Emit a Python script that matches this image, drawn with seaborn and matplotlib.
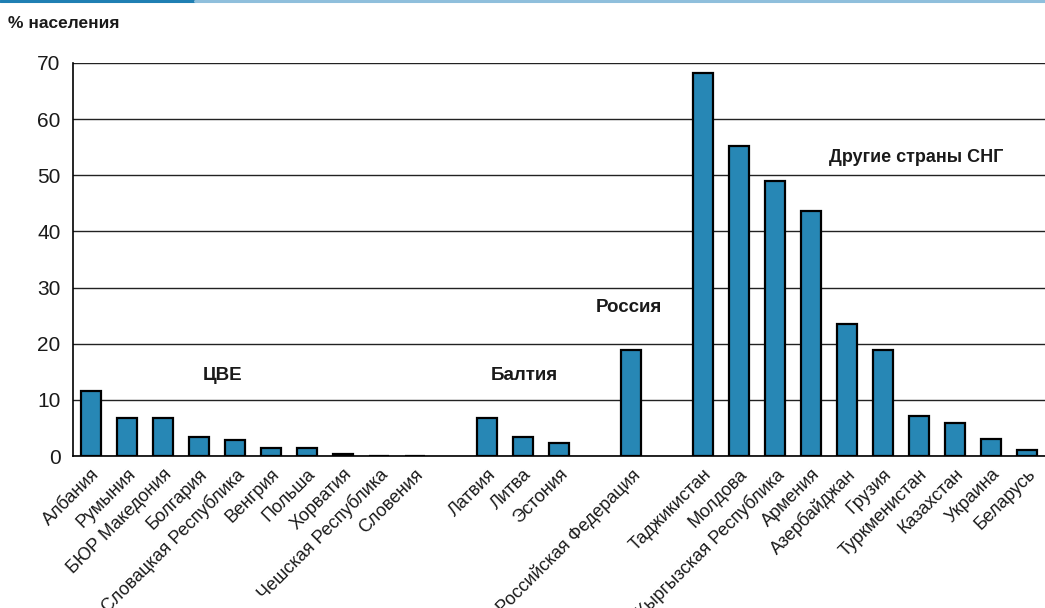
import numpy as np
import pandas as pd
import matplotlib.pyplot as plt
import seaborn as sns

# slots in drawing order; blank names are spacer slots between groups
slots = ['Албания', 'Румыния', 'БЮР Македония', 'Болгария', 'Словацкая Республика',
         'Венгрия', 'Польша', 'Хорватия', 'Чешская Республика', 'Словения', ' ',
         'Латвия', 'Литва', 'Эстония', '  ',
         'Российская Федерация', '   ',
         'Таджикистан', 'Молдова', 'Кыргызская Республика', 'Армения', 'Азербайджан',
         'Грузия', 'Туркменистан', 'Казахстан', 'Украина', 'Беларусь']

cee = ['Албания', 'Румыния', 'БЮР Македония', 'Болгария', 'Словацкая Республика',
       'Венгрия', 'Польша', 'Хорватия', 'Чешская Республика', 'Словения']
cee_vals = [11.6, 6.8, 6.8, 3.4, 2.8, 1.4, 1.4, 0.4, 0.0, 0.0]

baltic = ['Латвия', 'Литва', 'Эстония']
baltic_vals = [6.8, 3.4, 2.3]

russia = ['Российская Федерация']
russia_vals = [18.9]

cis = ['Таджикистан', 'Молдова', 'Кыргызская Республика', 'Армения', 'Азербайджан',
       'Грузия', 'Туркменистан', 'Казахстан', 'Украина', 'Беларусь']
cis_vals = [68.2, 55.2, 49.0, 43.6, 23.5, 18.9, 7.1, 5.9, 3.0, 1.1]

df = pd.DataFrame({'country': cee + baltic + russia + cis,
                   'value': cee_vals + baltic_vals + russia_vals + cis_vals})

sns.set_style('white')
plt.rcParams['font.family'] = ['Liberation Sans', 'DejaVu Sans']
txt_color = '#1a1a1a'

fig = plt.figure(figsize=(10.45, 6.08), dpi=100)
ax = fig.add_axes([0.0699, 0.25, 0.9301, 0.6464])

sns.barplot(data=df, x='country', y='value', order=slots, color='#2787b5',
            saturation=1, width=0.56, edgecolor='black', linewidth=1.6, ax=ax, zorder=3)

ax.set_ylim(0, 70)
ax.set_xlim(-0.5, len(slots) - 0.5)
ax.set_yticks(range(0, 71, 10))
ax.yaxis.grid(True, color='#222222', linewidth=1.0)
ax.set_axisbelow(True)
for s in ['top', 'right']:
    ax.spines[s].set_visible(False)
for s in ['left', 'bottom']:
    ax.spines[s].set_color('black')
    ax.spines[s].set_linewidth(1.2)

ax.set_xlabel('')
ax.set_ylabel('')
ax.set_xticks(range(len(slots)))
ax.set_xticklabels(slots, rotation=45, ha='right', rotation_mode='anchor',
                   fontsize=13, color=txt_color)
ax.tick_params(axis='x', length=0, pad=7)
ax.set_xticks(np.arange(-0.5, len(slots), 1), minor=True)
ax.tick_params(axis='x', which='minor', length=6, width=1.2, color='black', direction='out')
ax.tick_params(axis='y', length=6, width=1.2, color='black', direction='out',
               labelsize=15, pad=3, labelcolor=txt_color)

ax.text(3.64, 14.3, 'ЦВЕ', fontsize=13.5, fontweight='bold', ha='center', va='center', color=txt_color)
ax.text(12.03, 14.3, 'Балтия', fontsize=13.5, fontweight='bold', ha='center', va='center', color=txt_color)
ax.text(14.94, 26.5, 'Россия', fontsize=13.5, fontweight='bold', ha='center', va='center', color=txt_color)
ax.text(22.92, 53.1, 'Другие страны СНГ', fontsize=13, fontweight='bold', ha='center', va='center',
        color=txt_color)

fig.text(0.008, 0.962, '% населения', fontsize=12.5, fontweight='bold', ha='left', va='center',
         color=txt_color)

# thin blue rule at the top
fig.add_artist(plt.Line2D([0, 0.187], [0.998, 0.998], color='#1f7fb3', linewidth=2.2))
fig.add_artist(plt.Line2D([0.187, 1.0], [0.998, 0.998], color='#8fbfdc', linewidth=2.2))

plt.savefig('out.png', dpi=100)
